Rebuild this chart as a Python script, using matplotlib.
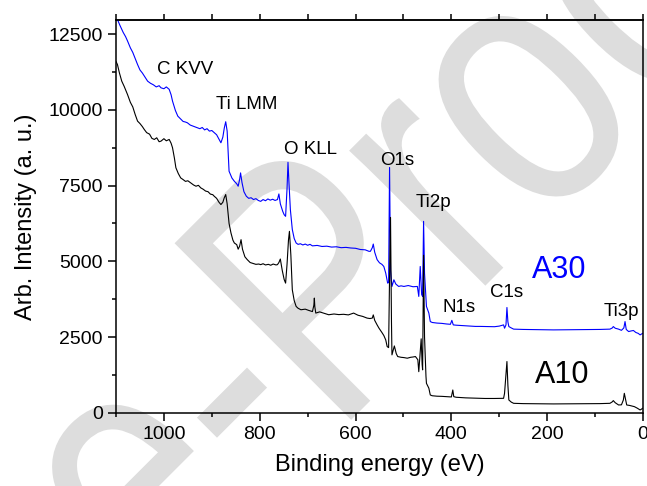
import numpy as np
import matplotlib
matplotlib.use("Agg")
import matplotlib.pyplot as plt
from matplotlib.ticker import MultipleLocator
from matplotlib.textpath import TextPath
from matplotlib.patches import PathPatch
from matplotlib.font_manager import FontProperties
from matplotlib.transforms import Affine2D

plt.rcParams['font.family'] = ['Liberation Sans', 'DejaVu Sans']

# A30 survey (blue), binding energy (eV) and intensity
e_a30 = [1100, 1092, 1085, 1080, 1076, 1070, 1065, 1060, 1055, 1050, 1045, 1040, 1034, 1028,
         1022, 1016, 1010, 1006, 1000, 995, 989, 985, 982, 976, 971, 965, 960, 955, 951, 945,
         940, 935, 930, 925, 920, 915, 910, 905, 900, 895, 890, 886, 881, 877, 874, 871, 868,
         864, 858, 853, 848, 845, 842, 840, 837, 833, 828, 823, 818, 813, 808, 803, 798, 793,
         788, 783, 778, 773, 768, 763, 760, 757, 752, 749, 746, 743, 741, 739, 736, 732, 728,
         724, 720, 715, 710, 705, 700, 695, 690, 680, 670, 660, 650, 640, 630, 620, 610, 600,
         590, 580, 572, 569, 565, 563, 560, 555, 550, 545, 541, 537, 533, 531, 529, 527, 524,
         520, 516, 510, 505, 499, 490, 480, 471, 468, 465, 462, 460, 458, 456, 452, 447, 444,
         440, 430, 420, 410, 402, 399, 396, 390, 380, 370, 360, 350, 340, 326, 310, 300, 291,
         289, 286, 284, 282, 280, 275, 270, 250, 230, 210, 187, 150, 120, 90, 75, 69, 64, 62,
         58, 51, 45, 40, 37.5, 35, 30, 25, 20, 15, 10, 6, 3, 0]
i_a30 = [13100, 12800, 12560, 12420, 12280, 12050, 11900, 11700, 11500, 11320, 11220, 11100,
         10950, 10880, 10830, 10760, 10800, 10730, 10700, 10760, 10680, 10500, 10290, 9980,
         9795, 9700, 9620, 9600, 9575, 9500, 9470, 9440, 9410, 9380, 9420, 9340, 9380, 9300,
         9320, 9250, 9180, 9060, 8915, 9100, 9400, 9610, 9300, 7975, 7750, 7645, 7560, 7480,
         7700, 7920, 7600, 7300, 7150, 7080, 7100, 7040, 7070, 7010, 6980, 7040, 7000, 7060,
         7020, 7050, 7010, 7040, 7225, 6900, 6650, 6540, 6485, 7400, 8270, 7600, 6700, 6050,
         5750, 5605, 5560, 5580, 5540, 5570, 5530, 5560, 5510, 5525, 5490, 5500, 5470, 5480,
         5450, 5460, 5440, 5430, 5390, 5380, 5330, 5330, 5450, 5570, 5300, 5055, 4950, 4900,
         4830, 4610, 4280, 4300, 8100, 4700, 4170, 4390, 4250, 4170, 4190, 4170, 4200, 4160,
         4170, 3840, 4830, 3900, 3840, 6320, 4600, 3510, 3290, 3010, 2980, 2960, 2950, 2930,
         2920, 3050, 2900, 2890, 2880, 2870, 2860, 2850, 2850, 2845, 2840, 2860, 2900, 2790,
         2900, 3475, 3000, 2845, 2800, 2760, 2750, 2745, 2740, 2735, 2740, 2745, 2750, 2755,
         2760, 2800, 2845, 2790, 2760, 2720, 2800, 3010, 2750, 2680, 2700, 2715, 2650, 2620,
         2570, 2600, 2625]

# A10 survey (black)
e_a10 = [1100, 1097, 1093, 1088, 1083, 1076, 1070, 1065, 1060, 1055, 1050, 1045, 1041, 1036,
         1030, 1025, 1020, 1015, 1010, 1006, 1000, 995, 989, 985, 982, 978, 975, 970, 965, 960,
         955, 950, 944, 938, 933, 928, 923, 918, 913, 908, 903, 898, 895, 890, 885, 881, 877,
         874, 871, 868, 864, 860, 856, 853, 848, 845, 842, 839, 836, 831, 826, 820, 814, 808,
         802, 798, 793, 788, 782, 777, 772, 766, 763, 760, 757, 753, 749, 746, 743, 740, 738,
         735, 732, 728, 724, 720, 714, 705, 698, 690, 687, 686, 685, 683, 675, 665, 656, 645,
         635, 625, 615, 604, 595, 585, 576, 570, 565, 563, 560, 555, 551, 545, 541, 537, 534,
         531, 529, 527, 525, 524, 519, 515, 512, 505, 499, 492, 485, 480, 475, 470, 468, 465,
         463, 461, 460, 458, 456, 453, 452, 447, 444, 440, 430, 420, 409, 400, 397, 395, 390,
         380, 370, 350, 330, 310, 291, 289, 284, 282, 280, 275, 270, 250, 220, 187, 150, 120,
         90, 69, 64, 62, 58, 51, 45, 41, 39, 36, 34, 28, 23, 18, 12, 6, 3, 1]
i_a10 = [11600, 11500, 11230, 10950, 10780, 10510, 10250, 10100, 9850, 9630, 9550, 9450, 9355,
         9250, 9200, 9060, 9025, 9080, 8950, 8970, 9050, 8980, 9025, 8900, 8750, 8400, 8090,
         7900, 7755, 7700, 7640, 7660, 7590, 7520, 7480, 7510, 7425, 7380, 7320, 7300, 7220,
         7200, 7150, 7080, 6950, 6875, 6950, 7100, 7205, 6900, 6250, 5935, 5700, 5605, 5550,
         5400, 5500, 5715, 5400, 5150, 5055, 4960, 4930, 4900, 4910, 4890, 4920, 4880, 4900,
         4870, 4910, 4880, 4890, 4960, 5075, 4700, 4400, 4280, 4900, 5700, 5990, 5200, 4060,
         3700, 3510, 3450, 3400, 3420, 3380, 3340, 3550, 3785, 3500, 3290, 3330, 3280, 3235,
         3260, 3240, 3250, 3230, 3290, 3220, 3180, 3125, 3110, 3125, 3230, 3050, 2900, 2790,
         2650, 2550, 2405, 2185, 2150, 4500, 6450, 3000, 1910, 2205, 1950, 1855, 1830, 1820,
         1800, 1830, 1840, 1855, 1750, 1355, 2000, 2440, 1600, 1415, 5200, 2500, 1200, 970,
         810, 585, 560, 545, 540, 530, 520, 750, 530, 510, 500, 490, 480, 470, 470, 475, 640,
         1690, 900, 420, 350, 310, 300, 295, 290, 295, 300, 300, 310, 360, 400, 330, 255, 260,
         420, 640, 400, 255, 240, 220, 200, 150, 90, 120, 145]

# peak labels: text, energy, intensity (centre of the text)
peak_names = ['C KVV', 'Ti LMM', 'O KLL', 'O1s', 'Ti2p', 'N1s', 'C1s', 'Ti3p']
peak_x = [956, 827, 694, 513, 438, 383, 285, 46]
peak_y = [11335, 10180, 8690, 8345, 6950, 3465, 3960, 3350]

fig = plt.figure(figsize=(6.47, 4.86), dpi=100)
ax = fig.add_axes([116/647, 1-412.7/486, (643-116)/647, (412.7-20)/486])
ax.set_zorder(1)
ax.set_facecolor('none')

# proof watermark behind everything (slightly condensed letters, 45 deg)
wm = TextPath((0, 0), 'e-Proof', size=1, prop=FontProperties(family='Liberation Sans'))
wm_tr = Affine2D().scale(290, 363).rotate_deg(45).translate(152, -133)
fig.add_artist(PathPatch(wm, transform=wm_tr, facecolor='#dddddd', edgecolor='none', zorder=-1))

ax.plot(e_a30, i_a30, color='#0000ff', lw=0.8)
ax.plot(e_a10, i_a10, color='black', lw=0.8)

for name, x, y in zip(peak_names, peak_x, peak_y):
    ax.text(x, y, name, fontsize=13.5, ha='center', va='center')
ax.text(175, 4705, 'A30', fontsize=22, color='#0000ff', ha='center', va='center')
ax.text(169, 1240, 'A10', fontsize=22, color='black', ha='center', va='center')

ax.set_xlim(1100, 0)
ax.set_ylim(0, 12970)
ax.xaxis.set_major_locator(MultipleLocator(200))
ax.xaxis.set_minor_locator(MultipleLocator(100))
ax.yaxis.set_major_locator(MultipleLocator(2500))
ax.yaxis.set_minor_locator(MultipleLocator(1250))
ax.tick_params(which='major', direction='out', length=6, width=1.1, labelsize=14)
ax.tick_params(which='minor', direction='out', length=3.2, width=1.1)
ax.tick_params(right=False, top=False, which='both')
for s in ax.spines.values():
    s.set_linewidth(1.1)

top = ax.secondary_xaxis('top')
top.xaxis.set_major_locator(MultipleLocator(100))
top.tick_params(direction='out', length=4.5, width=1.1, labeltop=False)
top.spines['top'].set_linewidth(1.1)

ax.set_xlabel('Binding energy (eV)', fontsize=17, labelpad=8)
ax.set_ylabel('Arb. Intensity (a. u.)', fontsize=17, labelpad=8)

fig.savefig('out.png', dpi=100)
